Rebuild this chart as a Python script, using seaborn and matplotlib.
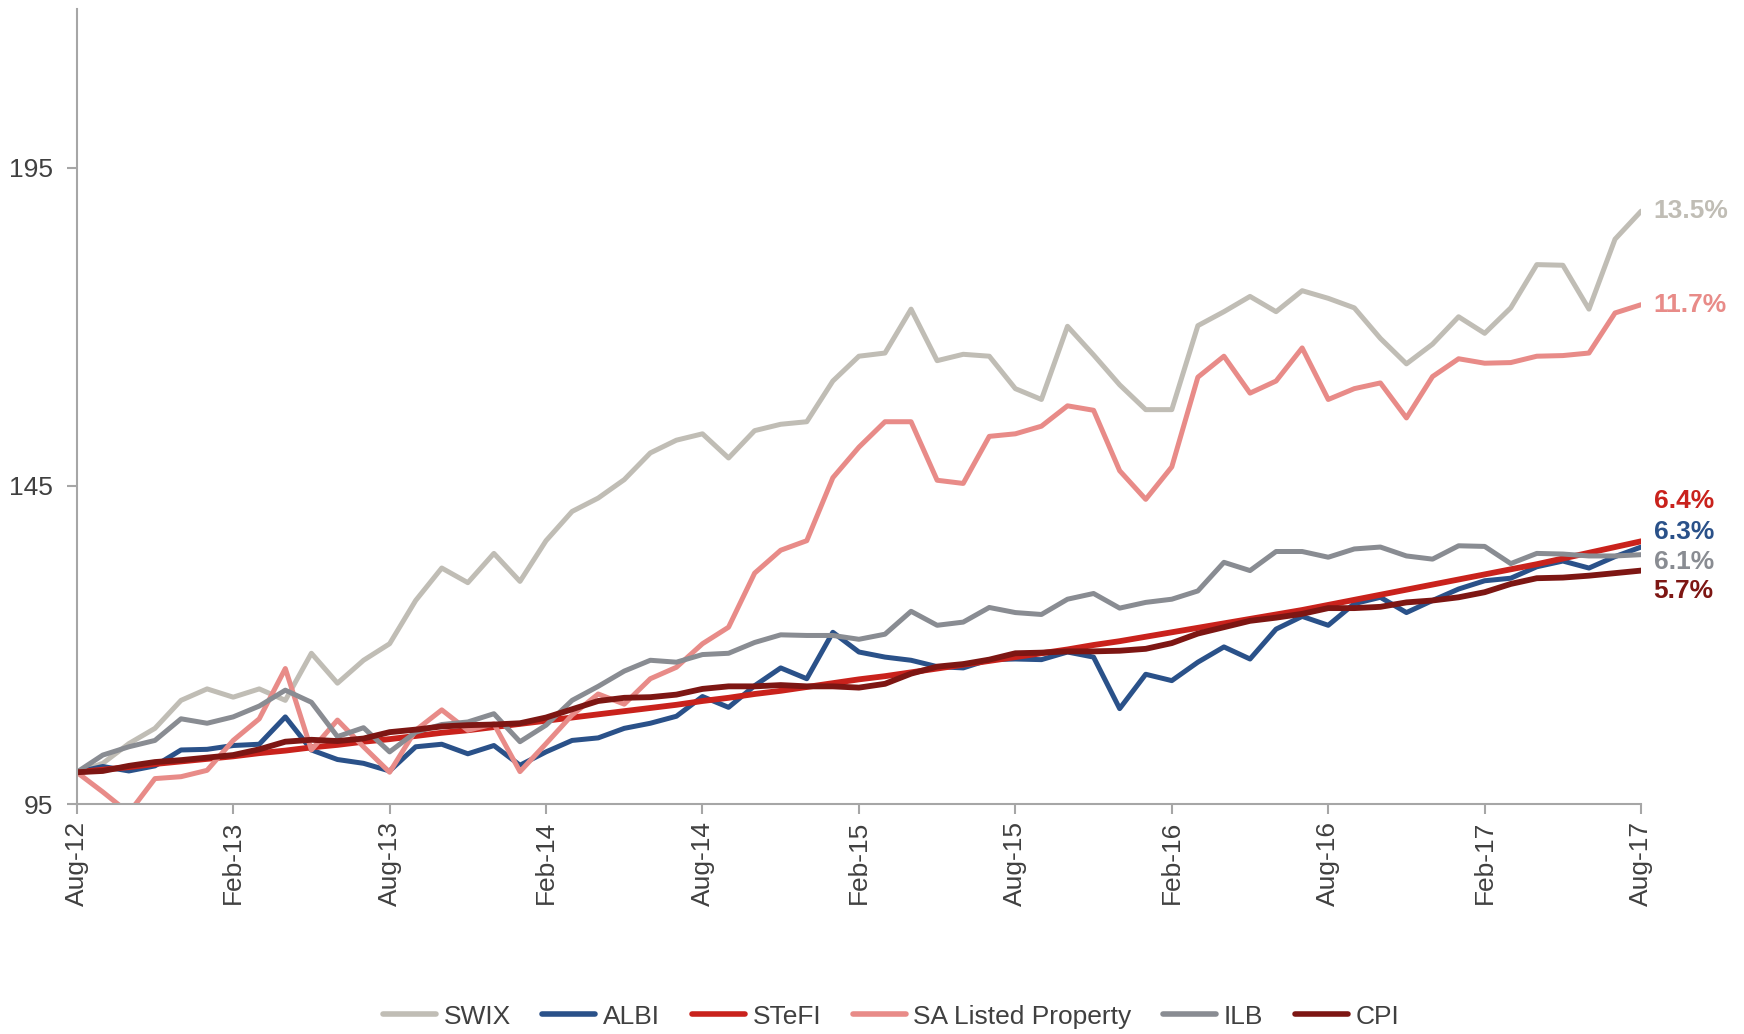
import numpy as np
import pandas as pd
import matplotlib
matplotlib.use("Agg")
import matplotlib.pyplot as plt
import seaborn as sns

# ---------------- data ----------------
series_names = ["SWIX", "ALBI", "STeFI", "SA Listed Property", "ILB", "CPI"]
tick_labels = ["Aug-12", "Feb-13", "Aug-13", "Feb-14", "Aug-14", "Feb-15",
               "Aug-15", "Feb-16", "Aug-16", "Feb-17", "Aug-17"]
end_labels = ["13.5%", "6.3%", "6.4%", "11.7%", "6.1%", "5.7%"]

swix = [100.0, 101.4, 104.5, 106.9, 111.3, 113.1, 111.8, 113.1, 111.3, 118.7,
        114.0, 117.6, 120.2, 127.0, 132.1, 129.8, 134.4, 130.0, 136.4, 141.0,
        143.1, 146.0, 150.2, 152.2, 153.2, 149.4, 153.7, 154.7, 155.1, 161.5,
        165.4, 165.9, 172.8, 164.7, 165.7, 165.4, 160.3, 158.6, 170.1, 165.6,
        160.9, 157.0, 157.0, 170.2, 172.4, 174.8, 172.4, 175.7, 174.5, 173.0,
        168.2, 164.2, 167.3, 171.6, 169.0, 173.0, 179.8, 179.7, 172.8, 183.8,
        188.2]
albi = [100.0, 100.9, 100.2, 101.0, 103.5, 103.6, 104.2, 104.4, 108.7, 103.5,
        102.0, 101.4, 100.2, 104.0, 104.4, 102.9, 104.2, 101.1, 103.2, 105.0,
        105.4, 106.9, 107.7, 108.8, 111.9, 110.2, 113.6, 116.4, 114.7, 122.0,
        118.9, 118.1, 117.6, 116.6, 116.4, 117.7, 117.8, 117.7, 118.9, 118.1,
        110.0, 115.4, 114.4, 117.3, 119.7, 117.8, 122.5, 124.5, 123.1, 126.5,
        127.5, 125.1, 127.0, 128.8, 130.1, 130.5, 132.3, 133.2, 132.1, 133.9,
        135.4]
stefi = [100.0, 100.4, 100.8, 101.3, 101.7, 102.1, 102.5, 103.0, 103.4, 103.9,
         104.3, 104.8, 105.2, 105.7, 106.2, 106.6, 107.1, 107.6, 108.1, 108.6,
         109.1, 109.6, 110.1, 110.6, 111.2, 111.7, 112.3, 112.8, 113.4, 114.0,
         114.6, 115.1, 115.7, 116.3, 116.9, 117.5, 118.1, 118.7, 119.3, 120.0,
         120.6, 121.3, 122.0, 122.7, 123.4, 124.1, 124.8, 125.5, 126.3, 127.1,
         127.9, 128.7, 129.5, 130.3, 131.1, 131.9, 132.7, 133.6, 134.5, 135.4,
         136.3]
property_ = [100.0, 96.9, 93.6, 99.0, 99.3, 100.3, 105.0, 108.4, 116.3, 103.5,
             108.2, 104.0, 100.0, 106.6, 109.8, 106.6, 107.6, 100.1, 104.5, 109.0,
             112.3, 110.7, 114.7, 116.5, 120.2, 122.8, 131.3, 134.9, 136.4, 146.3,
             151.1, 155.1, 155.1, 145.9, 145.4, 152.8, 153.2, 154.4, 157.6, 156.9,
             147.4, 142.9, 148.0, 162.1, 165.4, 159.6, 161.5, 166.7, 158.6, 160.3,
             161.2, 155.7, 162.2, 165.0, 164.3, 164.4, 165.4, 165.5, 165.9, 172.2,
             173.5]
ilb = [100.0, 102.7, 104.0, 105.0, 108.4, 107.7, 108.7, 110.4, 112.9, 111.0,
       105.6, 107.0, 103.2, 106.3, 107.5, 107.9, 109.2, 104.8, 107.4, 111.3,
       113.5, 115.9, 117.6, 117.3, 118.5, 118.7, 120.4, 121.6, 121.5, 121.5,
       120.9, 121.7, 125.3, 123.1, 123.6, 125.9, 125.1, 124.8, 127.2, 128.1,
       125.8, 126.7, 127.2, 128.5, 133.0, 131.7, 134.7, 134.7, 133.8, 135.1,
       135.4, 134.0, 133.5, 135.6, 135.5, 132.8, 134.4, 134.3, 134.0, 134.0,
       134.2]
cpi = [100.0, 100.2, 101.0, 101.6, 101.9, 102.3, 102.7, 103.6, 104.8, 105.1,
       104.9, 105.3, 106.3, 106.7, 107.2, 107.4, 107.5, 107.7, 108.6, 109.9,
       111.2, 111.7, 111.8, 112.2, 113.1, 113.5, 113.5, 113.7, 113.5, 113.5,
       113.3, 113.9, 115.5, 116.6, 117.0, 117.7, 118.7, 118.8, 119.0, 119.0,
       119.1, 119.4, 120.3, 121.8, 122.8, 123.8, 124.3, 124.9, 125.8, 125.8,
       126.0, 126.7, 127.0, 127.5, 128.3, 129.6, 130.5, 130.6, 130.9, 131.3,
       131.7]

# ---------------- styling ----------------
colors = {"SWIX": "#C0BDB5", "ALBI": "#2A5189", "STeFI": "#C9221C",
          "SA Listed Property": "#E88B88", "ILB": "#898C92", "CPI": "#7D1613"}
label_offsets = {"SWIX": 0, "ALBI": 11, "STeFI": 29, "SA Listed Property": 0,
                 "ILB": -5, "CPI": -15}
text_col = "#404040"
axis_col = "#A6A6A6"

sns.set_theme(style="white")
plt.rcParams["font.family"] = ["Liberation Sans", "DejaVu Sans"]

values = [swix, albi, stefi, property_, ilb, cpi]
frames = []
for name, vals in zip(series_names, values):
    frames.append(pd.DataFrame({"month": np.arange(len(vals)),
                                "value": vals, "series": name}))
df = pd.concat(frames, ignore_index=True)

fig = plt.figure(figsize=(17.44, 10.34), dpi=100)
ax = fig.add_axes([0.044, 0.2224, 0.897, 0.769])

sns.lineplot(data=df, x="month", y="value", hue="series",
             hue_order=series_names, palette=colors, estimator=None,
             linewidth=3.6, ax=ax)
for line, name in zip(ax.lines, series_names):
    if name in ("STeFI", "CPI"):
        line.set_linewidth(4.2)
    line.set_solid_capstyle("round")
    line.set_solid_joinstyle("round")

n = len(swix)
ax.set_xlim(0, n - 1)
ax.set_ylim(95, 220)
ax.set_xticks(np.arange(0, n, 6))
ax.set_xticklabels(tick_labels, rotation=90, fontsize=19, color=text_col)
ax.set_yticks([95, 145, 195])
ax.set_yticklabels(["95", "145", "195"], fontsize=19, color=text_col)
ax.tick_params(axis="x", direction="out", length=7, width=1.5,
               color=axis_col, pad=5, bottom=True)
ax.tick_params(axis="y", direction="out", length=7, width=1.5,
               color=axis_col, pad=10, left=True)
ax.set_xlabel("")
ax.set_ylabel("")
ax.grid(False)
for side in ("top", "right"):
    ax.spines[side].set_visible(False)
for side in ("left", "bottom"):
    ax.spines[side].set_color(axis_col)
    ax.spines[side].set_linewidth(1.5)

# end-of-line labels
for name, vals, lab in zip(series_names, values, end_labels):
    ax.annotate(lab, xy=(n - 1, vals[-1]), xytext=(9, label_offsets[name]),
                textcoords="offset points", ha="left", va="center",
                fontsize=19, fontweight="bold", color=colors[name],
                annotation_clip=False)

handles, labels = ax.get_legend_handles_labels()
if ax.get_legend() is not None:
    ax.get_legend().remove()
leg = fig.legend(handles, labels, loc="center", bbox_to_anchor=(0.511, 0.0168),
                 ncol=6, frameon=False, fontsize=19, handlelength=2.0,
                 handletextpad=0.3, columnspacing=1.2)
for t in leg.get_texts():
    t.set_color(text_col)
for h in leg.get_lines():
    h.set_linewidth(4.0)

fig.savefig("out.png", dpi=100)
